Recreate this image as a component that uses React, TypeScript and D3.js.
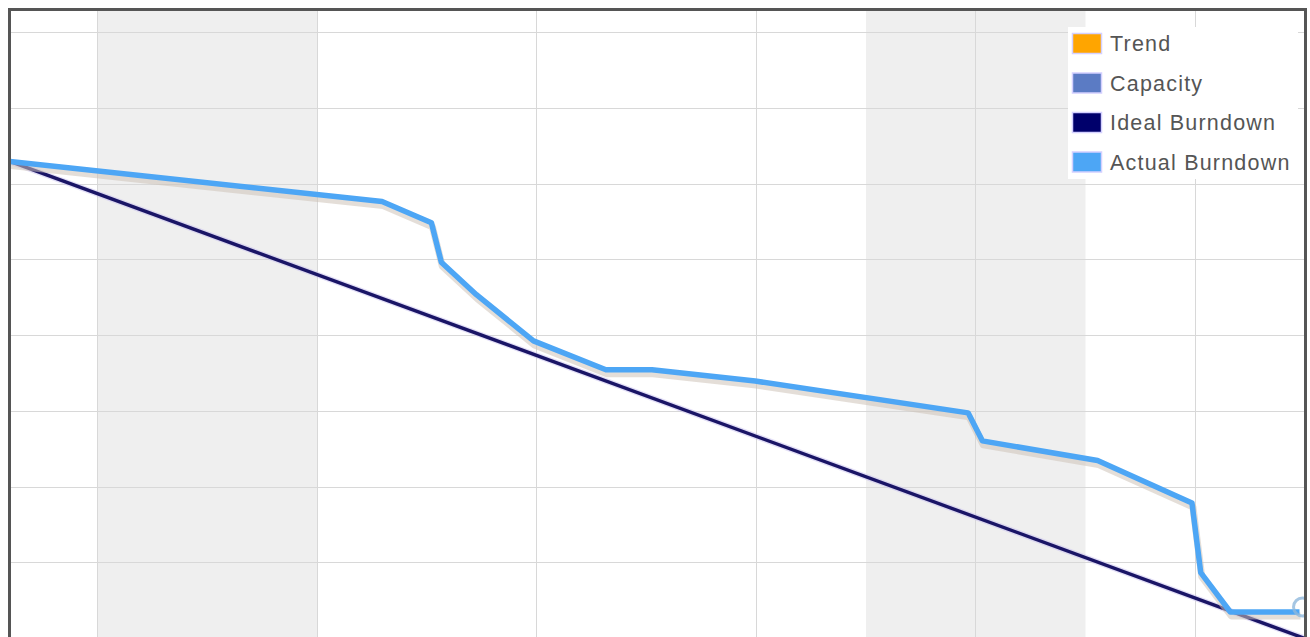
import {useEffect, useRef} from 'react';
import * as d3 from 'd3';

// sprint timeline in days from sprint start, remaining work in points
const sprintLength = 11.8;
const startPoints = 63;
const actualDays = [0, 3.39, 3.84, 3.93, 4.25, 4.77, 5.43, 5.85, 6.79, 8.73, 8.86, 9.91, 10.77, 10.85, 11.12, 11.75];
const actualRemaining = [63, 57.7, 54.9, 49.7, 45.4, 39.3, 35.5, 35.5, 34.0, 29.8, 26.1, 23.5, 17.9, 8.7, 3.5, 3.5];
const weekendStarts = [0.8, 7.8];
const weekendLength = 2;
const dayGrid = [0.8, 2.8, 4.8, 6.8, 8.8, 10.8];
const valueGrid = [10, 20, 30, 40, 50, 60, 70, 80];
const legendNames = ['Trend', 'Capacity', 'Ideal Burndown', 'Actual Burndown'];
const legendColors = ['#ffa500', '#5b7bc4', '#00006b', '#4da6f5'];

const BurndownChart = ({width, height}: {width: number; height: number}) => {
  const svgRef = useRef<SVGSVGElement>(null);

  useEffect(() => {
    const margin = {top: 10, right: 5, left: 10, bottom: -1.5};
    const plotW = width - margin.left - margin.right;
    const plotH = height - margin.top - margin.bottom;

    const svg = d3.select(svgRef.current);
    svg.selectAll('*').remove();

    const x = d3.scaleLinear().domain([0, sprintLength]).range([margin.left, margin.left + plotW]);
    const y = d3.scaleLinear().domain([0, 83]).range([margin.top + plotH, margin.top]);

    svg.append('defs').append('clipPath').attr('id', 'plot-clip')
      .append('rect')
      .attr('x', margin.left).attr('y', margin.top)
      .attr('width', plotW).attr('height', plotH);

    // weekends
    svg.append('g').selectAll('rect')
      .data(weekendStarts)
      .enter().append('rect')
      .attr('x', d => x(d))
      .attr('y', margin.top)
      .attr('width', d => x(d + weekendLength) - x(d))
      .attr('height', plotH)
      .attr('fill', '#efefef');

    // grid
    svg.append('g').selectAll('line')
      .data(dayGrid)
      .enter().append('line')
      .attr('x1', d => x(d)).attr('x2', d => x(d))
      .attr('y1', margin.top).attr('y2', height)
      .attr('stroke', '#d8d8d8')
      .attr('shape-rendering', 'crispEdges');

    svg.append('g').selectAll('line')
      .data(valueGrid)
      .enter().append('line')
      .attr('x1', margin.left).attr('x2', margin.left + plotW)
      .attr('y1', d => y(d)).attr('y2', d => y(d))
      .attr('stroke', '#d8d8d8')
      .attr('shape-rendering', 'crispEdges');

    const plot = svg.append('g').attr('clip-path', 'url(#plot-clip)');

    // ideal burndown
    const ideal: [number, number][] = [[0, startPoints], [sprintLength, 0]];
    const line = d3.line<[number, number]>().x(d => x(d[0])).y(d => y(d[1]));
    plot.append('path')
      .datum(ideal)
      .attr('fill', 'none')
      .attr('stroke', '#c8c0f0')
      .attr('stroke-opacity', 0.5)
      .attr('stroke-width', 6)
      .attr('d', line);
    plot.append('path')
      .datum(ideal)
      .attr('fill', 'none')
      .attr('stroke', '#1a1566')
      .attr('stroke-width', 3.4)
      .attr('d', line);

    // actual burndown
    const actual: [number, number][] = actualDays.map((d, i) => [d, actualRemaining[i]]);
    plot.append('path')
      .datum(actual)
      .attr('fill', 'none')
      .attr('stroke', '#cdc3b8')
      .attr('stroke-opacity', 0.55)
      .attr('stroke-width', 7)
      .attr('stroke-linejoin', 'round')
      .attr('transform', 'translate(1,4)')
      .attr('d', line);
    plot.append('path')
      .datum(actual)
      .attr('fill', 'none')
      .attr('stroke', '#4da6f5')
      .attr('stroke-width', 5.5)
      .attr('stroke-linejoin', 'round')
      .attr('d', line);

    const last = actual[actual.length - 1];
    plot.append('circle')
      .attr('cx', x(last[0]) + 3)
      .attr('cy', y(last[1]) - 5)
      .attr('r', 9)
      .attr('fill', 'none')
      .attr('stroke', '#8fb8dc')
      .attr('stroke-width', 3)
      .attr('stroke-opacity', 0.8);

    // frame
    svg.append('path')
      .attr('d', `M${margin.left - 0.5},${height} V${margin.top - 0.5} H${margin.left + plotW + 0.5} V${height}`)
      .attr('fill', 'none')
      .attr('stroke', '#555')
      .attr('stroke-width', 3);

    // legend
    const legend = svg.append('g').attr('transform', 'translate(1068, 27)');
    legend.append('rect')
      .attr('width', 230).attr('height', 152)
      .attr('fill', '#fff');
    const items = legend.selectAll('g')
      .data(legendNames)
      .enter().append('g')
      .attr('transform', (d, i) => `translate(0, ${i * 39.5})`);
    items.append('rect')
      .attr('x', 4.5).attr('y', 6.5)
      .attr('width', 29).attr('height', 20)
      .attr('fill', (d, i) => legendColors[i])
      .attr('stroke', '#d4d0ff')
      .attr('stroke-width', 1.5);
    items.append('text')
      .attr('x', 42).attr('y', 24)
      .style('font-family', '"Liberation Sans", Arial, sans-serif')
      .style('font-size', '21.5px')
      .style('letter-spacing', '1.2px')
      .style('fill', '#555')
      .text(d => d);
  }, [width, height]);

  return <svg ref={svgRef} width={width} height={height}
    style={{position: 'absolute', left: 0, top: 0, display: 'block', background: '#fff'}}/>;
};

export default function App() {
  return <BurndownChart width={1310} height={637}/>;
}
